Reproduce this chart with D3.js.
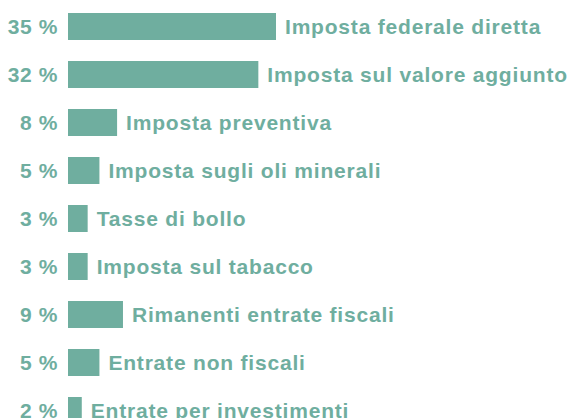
<!DOCTYPE html>
<html>
<head>
<meta charset="utf-8">
<script src="https://cdn.jsdelivr.net/npm/d3@7"></script>
<style>
  html, body { margin: 0; padding: 0; background: #fff; overflow: hidden; }
  svg { display: block; }
  text { font-family: "Liberation Sans", Arial, Helvetica, sans-serif; font-weight: bold; }
</style>
</head>
<body>
<div id="chart"></div>
<script>
// Revenue shares by source (percent)
const categories = [
  "Imposta federale diretta",
  "Imposta sul valore aggiunto",
  "Imposta preventiva",
  "Imposta sugli oli minerali",
  "Tasse di bollo",
  "Imposta sul tabacco",
  "Rimanenti entrate fiscali",
  "Entrate non fiscali",
  "Entrate per investimenti"
];
const shares = [35, 32, 8, 5, 3, 3, 9, 5, 2];

const width = 567, height = 418;
const color = "#6fae9f";
const barLeft = 68;
const step = 48, barH = 27;

const data = categories.map((c, i) => ({ name: c, value: shares[i] }));

const svg = d3.select("#chart").append("svg")
  .attr("width", width)
  .attr("height", height);

const x = d3.scaleLinear().domain([0, 35]).range([70, 276]);
const y = d3.scaleBand()
  .domain(categories)
  .range([0, step * (categories.length - 1) + barH])
  .paddingInner((step - barH) / step)
  .paddingOuter(0);

const g = svg.append("g").attr("transform", "translate(0,13)");

const row = g.selectAll("g.row").data(data).join("g")
  .attr("class", "row")
  .attr("transform", d => `translate(0,${y(d.name)})`);

row.append("rect")
  .attr("x", barLeft)
  .attr("y", 0)
  .attr("width", d => x(d.value) - barLeft)
  .attr("height", y.bandwidth())
  .attr("fill", color);

row.append("text")
  .attr("x", 58)
  .attr("y", y.bandwidth() / 2 + 7)
  .attr("text-anchor", "end")
  .attr("fill", color)
  .style("font-size", "21px")
  .style("letter-spacing", "0.6px")
  .text(d => `${d.value} %`);

row.append("text")
  .attr("x", d => x(d.value) + 9)
  .attr("y", y.bandwidth() / 2 + 7)
  .attr("fill", color)
  .style("font-size", "21px")
  .style("letter-spacing", "0.8px")
  .text(d => d.name);
</script>
</body>
</html>
